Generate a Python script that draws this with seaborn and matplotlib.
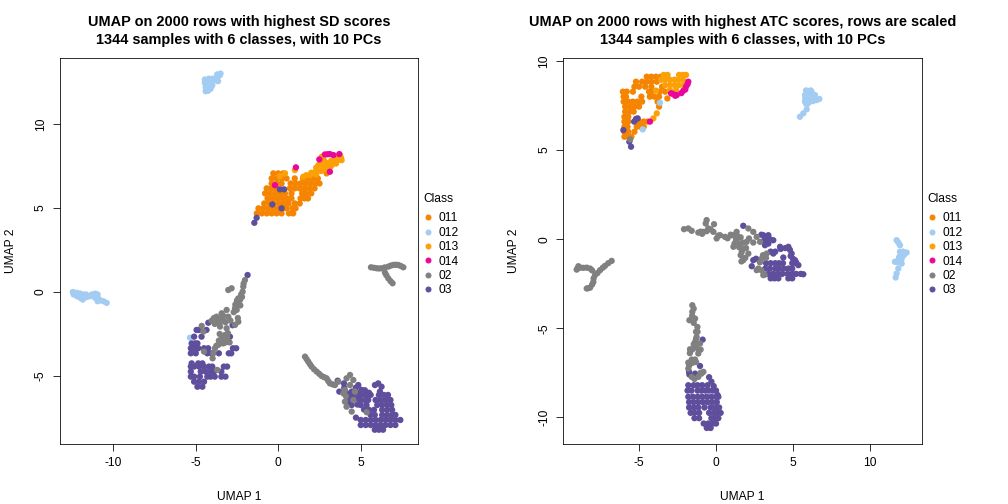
import matplotlib
matplotlib.use("Agg")
import matplotlib.pyplot as plt
from matplotlib.lines import Line2D
import pandas as pd
import seaborn as sns

classes = ["011", "012", "013", "014", "02", "03"]
class_colors = ["#F58500", "#A3CCF2", "#FBA107", "#E8079A", "#808080", "#5E4E9C"]
draw_order = ["011", "012", "013", "014", "03", "02"]

titles = ["UMAP on 2000 rows with highest SD scores\n1344 samples with 6 classes, with 10 PCs",
          "UMAP on 2000 rows with highest ATC scores, rows are scaled\n1344 samples with 6 classes, with 10 PCs"]
x_ticks_sd = [-10, -5, 0, 5]
y_ticks_sd = [-5, 0, 5, 10]
x_ticks_atc = [-5, 0, 5, 10]
y_ticks_atc = [-10, -5, 0, 5, 10]

sd_011 = [(-0.3,7.06),(0.0,7.06),(0.3,7.06),
          (-0.4,6.76),(-0.1,6.76),(0.2,6.76),(0.5,6.76),(1.0,6.76),(1.5,6.76),(1.8,6.76),(2.1,6.76),(2.4,6.76),
          (-0.4,6.46),(-0.1,6.46),(0.2,6.46),(0.75,6.46),(1.05,6.46),(1.35,6.46),(1.65,6.46),(1.95,6.46),(2.25,6.46),(2.5,6.46),
          (-0.7,6.17),(-0.4,6.17),(-0.1,6.17),(0.7,6.17),(1.0,6.17),(1.3,6.17),(1.6,6.17),(1.9,6.17),(2.2,6.17),
          (-0.8,5.87),(-0.5,5.87),(-0.2,5.87),(0.1,5.87),(0.4,5.87),(0.8,5.87),(1.45,5.87),(1.7,5.87),(2.0,5.87),
          (-0.65,5.57),(-0.35,5.57),(-0.05,5.57),(0.25,5.57),(0.55,5.57),(0.8,5.57),(1.35,5.57),(1.6,5.57),(1.8,5.57),
          (-0.85,5.27),(-0.55,5.27),(-0.25,5.27),(0.05,5.27),(0.35,5.27),(0.62,5.27),(1.0,5.27),(1.3,5.27),
          (-1.2,4.98),(-0.9,4.98),(-0.6,4.98),(-0.3,4.98),(0.0,4.98),(0.3,4.98),(0.5,4.98),(0.85,4.98),(1.05,4.98),
          (-1.3,4.68),(-1.0,4.68),(-0.7,4.68),(-0.4,4.68),(-0.1,4.68),(0.2,4.68),(0.65,4.68),(0.9,4.68),(2.93,7.06)]
sd_012 = [(-4.4,11.95),(-4.25,11.98),(-4.1,12.1),(-4.4,12.2),(-4.2,12.3),(-4.0,12.3),(-4.45,12.45),(-4.25,12.55),(-4.0,12.55),
          (-4.45,12.65),(-4.2,12.7),(-3.95,12.7),(-3.8,12.6),(-3.65,12.55),(-3.7,12.8),(-3.55,12.9),(-3.7,12.95),(-3.5,13.0),
          (-12.45,0.0),(-12.4,-0.15),(-12.2,-0.05),(-12.2,-0.25),(-12.0,-0.1),(-12.0,-0.35),(-11.85,-0.45),(-11.8,-0.15),
          (-11.6,-0.3),(-11.4,-0.25),(-11.3,-0.15),(-11.1,-0.1),(-10.95,-0.15),(-11.1,-0.35),(-10.9,-0.4),(-10.8,-0.5),
          (-10.6,-0.55),(-10.4,-0.65),(-12.3,-0.1),(-11.65,-0.15),(-10.95,-0.55),(-5.35,-2.72)]
sd_013 = [(1.92,6.96),(2.33,7.26),(2.73,7.46),(2.43,7.55),(2.93,7.55),(3.34,7.65),(3.64,7.95),(3.84,7.85),(2.63,8.05),
          (3.13,7.46),(3.55,7.8),(1.52,6.86),(0.1,6.9),(0.41,7.06),(1.01,7.26),(3.74,8.15),(2.2,7.1),
          (1.7,6.95),(2.0,7.1),(2.3,7.0),(2.3,7.4),(2.6,7.2),(2.6,7.6),(2.9,7.3),(2.9,7.7),(3.2,7.5),(3.2,7.8),(3.5,7.65),(3.5,8.0),(3.8,8.0),(2.75,7.9)]
sd_014 = [(2.83,8.19),(3.0,8.2),(3.13,8.21),(3.34,8.15),(3.7,8.21),(2.49,7.89),(3.13,7.16),(1.07,7.42),(-0.2,6.36)]
sd_02 = [(-2.02,0.71),(-2.12,0.32),(-2.16,0.02),(-2.42,-0.38),(-2.52,-0.67),(-2.32,-0.48),(-2.62,-0.97),(-2.52,-1.07),
         (-2.1,0.5),(-2.25,-0.15),(-2.5,-0.5),(-2.2,-0.3),(-2.6,-0.75),(-2.3,-0.8),(-2.7,-1.2),
         (-2.83,0.22),(-3.03,0.12),(-3.13,-1.07),(-3.43,-1.27),(-3.74,-1.47),(-4.04,-1.71),(-3.74,-1.77),(-3.33,-1.67),
         (-3.9,-1.55),(-3.6,-1.6),(-3.35,-1.4),(-3.2,-1.8),(-3.55,-1.85),(-3.85,-1.9),(-2.9,-1.7),(-2.45,-1.55),
         (-3.03,-1.47),(-2.42,-1.77),(-2.62,-1.96),(-3.53,-2.06),(-3.13,-2.16),(-3.23,-2.56),(-3.03,-2.96),(-3.33,-3.06),
         (-3.6,-2.9),(-3.3,-2.8),(-3.1,-2.7),(-3.5,-3.05),(-3.2,-3.0),(-2.95,-3.0),(-3.75,-3.2),(-3.55,-2.5),(-3.05,-2.45),
         (-3.64,-3.15),(-3.84,-3.35),(-3.94,-3.65),(-3.98,-3.95),(-3.43,-2.76),(-4.54,-2.36),(-4.64,-2.02),(-4.5,-3.55),(-3.7,-4.64),
         (1.62,-3.85),(1.82,-4.15),(2.02,-4.44),(2.33,-4.74),(2.63,-5.0),(2.93,-5.14),(3.13,-5.44),(3.44,-5.54),(4.35,-4.94),
         (1.72,-4.0),(1.92,-4.3),(2.17,-4.6),(2.48,-4.87),(2.78,-5.07),(3.03,-5.3),(3.3,-5.5),
         (4.14,-5.14),(4.55,-5.24),(4.35,-5.54),(4.04,-5.83),(3.94,-6.03),(4.65,-5.93),(4.04,-6.53),(4.14,-6.83),(4.45,-7.12),
         (4.55,-6.43),(5.36,-7.16),(3.64,-5.34),(4.1,-6.2),
         (5.62,1.47),(5.97,1.41),(6.27,1.41),(6.67,1.51),(6.97,1.61),(7.27,1.61),(7.58,1.47),(6.47,1.15),(6.67,0.81),(6.93,0.52),
         (5.8,1.44),(6.12,1.4),(6.45,1.46),(6.82,1.57),(7.12,1.62),(7.42,1.55),(6.55,1.0),(6.8,0.65)]
sd_03 = [(-1.45,4.12),(-1.31,4.42),(-0.36,5.21),(0.2,4.98),(0.1,6.11),(0.35,6.11),(-1.86,1.01),(-2.77,-1.98),(-4.24,-1.83),
         (-4.95,-2.26),(-4.8,-2.26),(-4.35,-2.26),(-5.1,-2.66),(-4.65,-2.66),(-5.25,-3.06),(-5.05,-3.06),(-4.9,-3.06),
         (-5.3,-3.35),(-5.1,-3.35),(-4.85,-3.35),(-4.5,-3.35),(-4.25,-3.35),(-2.75,-3.35),(-2.55,-3.35),
         (-5.3,-3.65),(-5.0,-3.65),(-4.3,-3.65),(-4.05,-3.65),(-3.6,-3.65),(-3.0,-3.65),(-2.85,-3.65),
         (-5.25,-4.25),(-4.85,-4.25),(-4.6,-4.25),(-5.3,-4.44),(-5.1,-4.44),(-4.8,-4.44),(-4.5,-4.44),(-4.2,-4.44),(-4.0,-4.44),(-3.3,-4.44),(-3.1,-4.44),
         (-5.3,-4.74),(-4.7,-4.74),(-4.4,-4.74),(-4.1,-4.74),(-3.9,-4.74),(-3.45,-4.74),
         (-5.3,-5.04),(-5.1,-5.04),(-4.75,-5.04),(-4.3,-5.04),(-4.1,-5.04),(-3.85,-5.04),(-3.45,-5.04),(-3.2,-5.04),
         (-5.1,-5.34),(-4.8,-5.34),(-4.5,-5.34),(-4.9,-5.64),(-4.6,-5.64),(-2.93,-2.66),
         (3.6,-5.28),(3.98,-5.44),(3.7,-5.93),(4.45,-5.93),(4.35,-6.33),(4.45,-6.73),(4.71,-7.48),(4.85,-5.54),(5.05,-5.83),(5.86,-5.54),
         (4.0,-5.7),(4.3,-6.05),(4.55,-6.1),(4.3,-6.6),(4.7,-5.7),(5.25,-5.85),(5.5,-6.0),(4.8,-6.0),(4.8,-6.35),(4.8,-6.7),(5.2,-7.0),
         (6.06,-5.44),(6.26,-5.64),(6.16,-5.93),(5.0,-6.13),(5.3,-6.13),(5.6,-6.13),(6.1,-6.13),(6.4,-6.13),(6.65,-6.13),
         (5.0,-6.43),(5.25,-6.43),(5.45,-6.43),(5.9,-6.43),(6.2,-6.43),(6.5,-6.43),(6.8,-6.43),
         (5.0,-6.73),(5.35,-6.73),(6.0,-6.73),(6.3,-6.73),(6.6,-6.73),(6.85,-6.73),
         (5.5,-7.02),(5.8,-7.02),(6.3,-7.02),(6.6,-7.02),(6.9,-7.02),
         (5.6,-7.32),(5.85,-7.32),(6.3,-7.32),(6.6,-7.32),(6.9,-7.32),(7.1,-7.32),
         (5.0,-7.62),(5.3,-7.62),(5.6,-7.62),(5.9,-7.62),(6.2,-7.62),(6.5,-7.62),(6.8,-7.62),(7.1,-7.62),(7.4,-7.62),
         (5.0,-7.92),(5.3,-7.92),(5.6,-7.92),(5.9,-7.92),(6.2,-7.92),(6.5,-7.92),(6.8,-7.92),(7.1,-7.92),
         (5.85,-8.2),(6.1,-8.2),(6.35,-8.2)]

atc_011 = [(-4.5,9.12),(-4.2,9.12),(-3.9,9.12),(-3.6,9.12),(-5.2,8.84),(-4.8,8.84),(-4.5,8.84),(-4.2,8.84),(-3.85,8.84),
           (-5.3,8.56),(-5.0,8.56),(-4.6,8.56),(-4.2,8.56),(-3.5,8.56),
           (-6.05,8.28),(-5.8,8.28),(-5.4,8.28),(-4.35,8.28),(-4.2,8.28),(-3.65,8.28),(-3.3,8.28),
           (-6.0,8.0),(-5.85,8.0),(-4.85,8.0),(-4.3,8.0),(-4.0,8.0),(-3.7,8.0),(-3.16,7.9),
           (-6.0,7.72),(-5.7,7.72),(-5.4,7.72),(-5.1,7.72),(-4.8,7.72),(-3.8,7.72),
           (-5.9,7.44),(-5.6,7.44),(-5.3,7.44),(-5.0,7.44),(-3.7,7.44),(-5.9,7.16),(-5.6,7.16),(-5.35,7.16),
           (-5.95,6.87),(-5.7,6.87),(-5.95,6.6),(-5.7,6.6),(-5.0,6.6),(-4.7,6.6),(-4.45,6.6),
           (-5.95,6.31),(-5.75,6.31),(-5.15,6.31),(-4.9,6.31),(-4.7,6.31),
           (-5.95,6.03),(-5.7,6.03),(-5.3,6.03),(-5.95,5.75),(-5.7,5.75),(-5.5,5.75)]
atc_012 = [(5.99,8.28),(5.78,8.09),(6.1,8.0),(5.78,7.72),(6.1,7.72),(6.54,7.81),(6.71,7.87),(6.43,8.09),(5.89,7.29),(5.67,7.06),
           (5.45,6.87),(6.2,8.28),(5.85,7.6),(5.9,8.2),(6.0,7.85),(6.3,7.75),(5.95,7.6),(6.2,7.95),(5.8,7.9),(6.4,7.85),(5.85,8.35),(6.15,8.35),
           (-4.76,6.16),(-3.64,7.66),
           (11.73,-0.06),(11.95,-0.34),(11.95,-0.71),(12.38,-0.75),(12.15,-0.7),(12.06,-1.09),(11.62,-1.27),(12.06,-1.37),(11.84,-1.65),
           (11.73,-1.93),(11.67,-2.15),(11.9,-1.0),(11.8,-1.3),(11.85,-0.2),(11.85,-1.15),(12.2,-0.9)]
atc_013 = [(-3.4,9.22),(-3.15,9.22),(-2.4,9.22),(-2.15,9.22),(-1.95,9.22),
           (-3.55,8.95),(-3.3,8.95),(-3.0,8.95),(-2.7,8.95),(-2.45,8.95),(-2.15,8.95),
           (-3.3,8.65),(-3.0,8.65),(-2.7,8.65),(-2.4,8.65),(-2.1,8.65),(-3.0,8.37),(-2.6,8.37),
           (-3.9,8.34),(-3.85,7.06),(-4.07,6.78)]
atc_014 = [(-1.8,8.84),(-1.85,8.7),(-1.95,8.56),(-2.0,8.4),(-2.12,8.34),(-2.25,8.2),(-2.55,8.09),(-2.65,8.05),(-2.8,8.15),(-2.92,8.19),(-4.29,6.6)]
atc_02 = [(-2.08,0.56),(-1.8,0.6),(-1.58,0.47),(-1.15,0.37),(-0.82,0.41),(-0.67,0.88),(-0.61,1.07),(-0.13,0.84),(-0.5,0.6),(-0.17,0.41),
          (0.26,0.22),(0.04,0.04),(0.58,0.13),(1.02,0.22),(1.34,0.41),(1.45,0.13),(1.13,-0.43),(1.56,-0.24),(1.99,-0.15),(2.1,0.6),
          (2.42,0.41),(2.64,0.13),(2.14,0.04),(2.42,-0.19),(1.67,-0.71),(2.1,-0.81),(1.77,-1.18),(2.86,-0.15),(3.29,-0.81),(2.97,-1.09),
          (2.64,-1.74),(3.07,-2.02),(1.3,0.05),(1.75,-0.2),(1.3,-0.1),(1.6,0.1),(1.2,-0.25),(1.5,-0.45),(1.75,-0.55),(1.95,-0.5),(1.6,-0.9),
          (1.9,-1.05),(1.65,-1.25),(1.3,0.3),(0.95,0.25),(0.75,0.05),(-0.9,0.3),(-1.0,0.42),(-0.6,0.45),(-0.35,0.55),(0.15,0.2),
          (3.05,-0.9),(2.85,-1.3),(3.25,-1.05),(2.75,-1.65),(2.95,-1.75),(3.15,-2.0),
          (-9.05,-1.71),(-8.94,-1.52),(-8.61,-1.61),(-8.18,-1.65),(-7.86,-2.02),(-7.97,-2.4),(-8.18,-2.72),(-8.4,-2.77),(-7.53,-1.74),
          (-7.21,-1.5),(-6.78,-1.22),(-8.8,-1.6),(-8.4,-1.6),(-8.05,-1.75),(-7.95,-2.2),(-8.05,-2.55),(-8.3,-2.75),(-7.7,-1.9),(-7.35,-1.6),(-7.0,-1.35),(-9.0,-1.65),
          (-1.54,-3.71),(-1.54,-4.08),(-1.73,-4.55),(-1.36,-4.46),(-1.21,-4.93),(-1.26,-5.49),(-1.36,-5.77),(-1.04,-5.86),(-1.3,-6.05),
          (-1.69,-6.18),(-1.15,-6.42),(-1.58,-6.76),(-1.8,-6.93),(-1.36,-6.76),(-1.8,-7.27),(-0.82,-7.45),(-1.15,-7.73),(-1.58,-7.73),(-5.58,5.6),
          (-1.45,-3.9),(-1.55,-4.3),(-1.45,-4.7),(-1.3,-5.2),(-1.2,-5.2),(-1.3,-5.6),(-1.45,-5.9),(-1.15,-6.2),(-1.7,-6.4),(-1.55,-6.2),(-1.3,-6.9),
          (-1.55,-6.95),(-1.75,-7.1),(-1.0,-6.2),(-0.95,-7.55),(-1.0,-7.5),(-1.4,-7.85)]
atc_03 = [(-5.09,6.78),(-5.32,6.6),(-5.2,6.75),(-5.52,5.19),(-5.63,5.47),(-6.02,6.12),
          (1.77,0.75),(2.95,0.25),(3.07,0.22),(3.4,0.22),(3.2,0.05),(3.5,0.0),(3.1,-0.1),(3.4,-0.25),(3.29,-0.15),(3.72,-0.06),(3.18,-0.34),
          (4.16,-0.43),(4.2,-0.55),(4.5,-0.5),(4.8,-0.6),(4.7,-0.43),(3.55,-0.7),(3.85,-0.7),(3.72,-0.81),(4.91,-0.81),(4.85,-0.95),(5.0,-1.1),(5.2,-1.3),
          (4.37,-1.03),(5.13,-1.18),(5.35,-1.46),(5.67,-1.97),(2.42,-1.18),(2.6,-1.1),(2.32,-1.52),
          (3.25,-1.35),(3.55,-1.35),(3.85,-1.35),(4.1,-1.35),(4.35,-1.35),(4.95,-1.35),(5.2,-1.35),
          (3.2,-1.65),(3.5,-1.65),(3.85,-1.65),(4.1,-1.65),(4.4,-1.65),(4.7,-1.65),(4.95,-1.65),
          (3.4,-1.95),(3.7,-1.95),(4.0,-1.95),(4.3,-1.95),(4.65,-1.95),(4.95,-1.95),(5.2,-1.95),(5.5,-1.95),
          (3.55,-2.2),(3.8,-2.2),(4.05,-2.2),(4.7,-2.2),(4.95,-2.2),
          (-0.87,-5.64),(-1.73,-7.6),(-1.75,-7.45),(-1.04,-7.12),(-1.36,-7.55),
          (-1.8,-8.2),(-1.45,-8.2),(-1.2,-8.2),(-0.9,-8.2),(-0.55,-8.2),(-0.45,-7.75),(-0.3,-8.0),(-0.15,-8.25),(0.0,-8.5),(0.1,-8.75),
          (-1.85,-8.5),(-1.6,-8.5),(-1.2,-8.5),(-0.95,-8.5),(-0.7,-8.5),(-0.45,-8.5),(-0.2,-8.5),
          (-1.8,-8.85),(-1.5,-8.85),(-1.2,-8.85),(-0.9,-8.85),(-0.6,-8.85),(-0.3,-8.85),(0.0,-8.85),(0.15,-8.85),
          (-1.75,-9.15),(-1.45,-9.15),(-1.15,-9.15),(-0.85,-9.15),(-0.55,-9.15),(-0.25,-9.15),(0.05,-9.15),
          (-1.75,-9.45),(-1.45,-9.45),(-1.15,-9.45),(-0.75,-9.45),(-0.35,-9.45),(-0.05,-9.45),(0.2,-9.45),
          (-1.65,-9.75),(-1.4,-9.75),(-1.1,-9.75),(-0.45,-9.75),(-0.15,-9.75),(0.1,-9.75),(0.3,-9.75),
          (-1.4,-10.05),(-1.1,-10.05),(-0.3,-10.05),(-0.05,-10.05),(0.15,-10.05),
          (-0.8,-10.35),(-0.5,-10.35),(-0.2,-10.35),(0.0,-10.35),(-0.6,-10.6),(-0.35,-10.6)]

sd_points = dict(zip(classes, [sd_011, sd_012, sd_013, sd_014, sd_02, sd_03]))
atc_points = dict(zip(classes, [atc_011, atc_012, atc_013, atc_014, atc_02, atc_03]))


def frame(points):
    rows = [(c, x, y) for c in draw_order for x, y in points[c]]
    return pd.DataFrame(rows, columns=["Class", "x", "y"])


sns.set_theme(style="white")
plt.rcParams["font.family"] = ["Liberation Sans"]
plt.rcParams["font.size"] = 12

fig = plt.figure(figsize=(14, 7), dpi=72)
W, H = 1008, 504
panels = [
    (60, 418, sd_points, titles[0], x_ticks_sd, y_ticks_sd, (-13.23, 8.47), (-9.05, 13.93)),
    (563, 922, atc_points, titles[1], x_ticks_atc, y_ticks_atc, (-9.94, 13.38), (-11.5, 10.17)),
]
palette = dict(zip(classes, class_colors))
for left, right, points, title, xt, yt, xl, yl in panels:
    ax = fig.add_axes([left / W, 1 - 444 / H, (right - left) / W, (444 - 58) / H])
    sns.scatterplot(data=frame(points), x="x", y="y", hue="Class", palette=palette, s=40, linewidth=0,
                    legend=False, ax=ax)
    ax.set_xlim(*xl)
    ax.set_ylim(*yl)
    ax.set_xticks(xt)
    ax.set_yticks(yt)
    ax.set_xticklabels([str(v) for v in xt], fontsize=12)
    ax.set_yticklabels([str(v) for v in yt], fontsize=12, rotation=90, va="center")
    ax.tick_params(axis="both", direction="out", length=7, width=0.8, color="black", labelcolor="black",
                   bottom=True, left=True, pad=6)
    for s in ax.spines.values():
        s.set_visible(True)
        s.set_color("black")
        s.set_linewidth(0.8)
    ax.set_xlabel("UMAP 1", fontsize=12, color="black", labelpad=22)
    ax.set_ylabel("UMAP 2", fontsize=12, color="black", labelpad=18)
    ax.set_title(title, fontsize=14.5, fontweight="bold", color="black", pad=14, linespacing=1.35)
    handles = [Line2D([], [], linestyle="", marker="o", markersize=5, color=c, label=k)
               for k, c in zip(classes, class_colors)]
    leg = ax.legend(handles=handles, title="Class", loc="upper left", frameon=False,
                    bbox_to_anchor=((right + 5) / W, 1 - 193 / H), bbox_transform=fig.transFigure,
                    fontsize=12, title_fontsize=12, labelspacing=0.2, handlelength=0.83, handletextpad=0.5,
                    borderaxespad=0, borderpad=0, alignment="left")
    leg._legend_box.sep = 7.4
    for t in leg.get_texts():
        t.set_color("black")
    leg.get_title().set_color("black")

fig.savefig("out.png", dpi=72)
